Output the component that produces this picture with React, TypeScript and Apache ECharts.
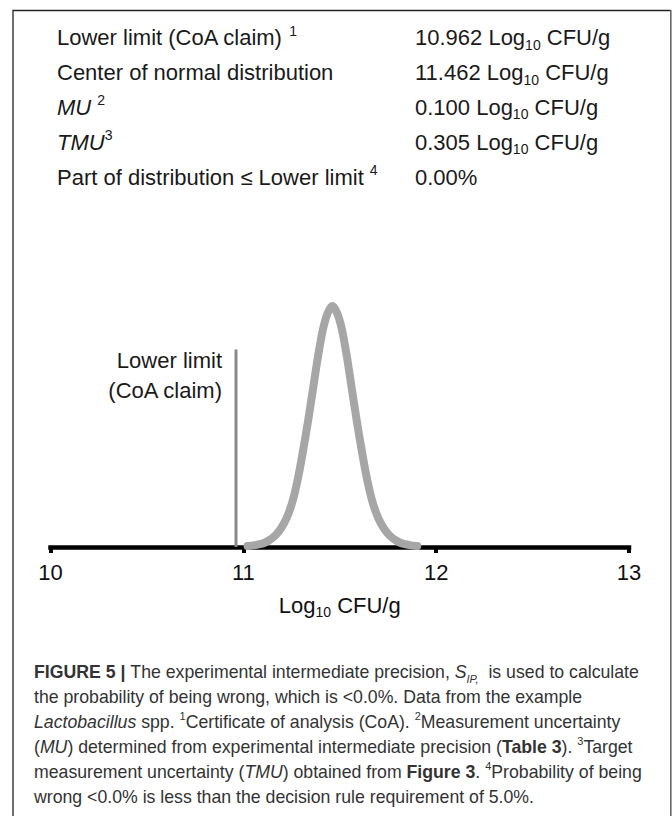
import React, { useEffect, useRef } from "react";
import * as echarts from "echarts";

// ---- data ----
const xTicks = [10, 11, 12, 13];
const curveX = [
  11.022, 11.062, 11.102, 11.132, 11.162, 11.187, 11.212, 11.237, 11.262, 11.287, 11.312, 11.337, 11.362, 11.387,
  11.412, 11.437, 11.462,
  11.487, 11.512, 11.537, 11.562, 11.587, 11.612, 11.637, 11.662, 11.687, 11.712, 11.737, 11.762, 11.792, 11.822,
  11.862, 11.902,
];
const curveY = [
  0.004, 0.008, 0.015, 0.027, 0.045, 0.068, 0.1, 0.145, 0.21, 0.3, 0.41, 0.53, 0.66, 0.79,
  0.9, 0.97, 1.0,
  0.97, 0.9, 0.79, 0.66, 0.53, 0.41, 0.3, 0.21, 0.145, 0.1, 0.068, 0.045, 0.027, 0.015,
  0.008, 0.004,
];
const lowerLimit = 10.962;
const lowerLimitLineTop = 0.82;

const tableLabels = [
  "{n|Lower limit (CoA claim) }{sup|1}",
  "{n|Center of normal distribution}",
  "{i|MU}{n| }{sup|2}",
  "{i|TMU}{sup|3}",
  "{n|Part of distribution ≤ Lower limit }{sup|4}",
];
const tableNumbers = ["10.962", "11.462", "0.100", "0.305"];
const partBelow = "0.00%";

const captionLines = [
  "{b|FIGURE 5 | }{n|The experimental intermediate precision, }{i|S}{isub|IP,}{n|  is used to calculate}",
  "{n|the probability of being wrong, which is <0.0%. Data from the example}",
  "{i|Lactobacillus}{n| spp. }{sup|1}{n|Certificate of analysis (CoA). }{sup|2}{n|Measurement uncertainty}",
  "{n|(}{i|MU}{n|) determined from experimental intermediate precision (}{b|Table 3}{n|). }{sup|3}{n|Target}",
  "{n|measurement uncertainty (}{i|TMU}{n|) obtained from }{b|Figure 3}{n|. }{sup|4}{n|Probability of being}",
  "{n|wrong <0.0% is less than the decision rule requirement of 5.0%.}",
];

const FONT = "'Liberation Sans', Arial, Helvetica, sans-serif";

function richMain(size: number, color: string, lh: number) {
  const subSize = Math.round(size * 0.64);
  return {
    n: { fontSize: size, fontFamily: FONT, fill: color, color, lineHeight: lh, verticalAlign: "middle" },
    i: { fontSize: size, fontFamily: FONT, fill: color, color, fontStyle: "italic", lineHeight: lh, verticalAlign: "middle" },
    b: { fontSize: size, fontFamily: FONT, fill: color, color, fontWeight: "bold", lineHeight: lh, verticalAlign: "middle" },
    sup: { fontSize: subSize, fontFamily: FONT, fill: color, color, lineHeight: Math.round(lh * 0.7), verticalAlign: "top" },
    sub: { fontSize: subSize, fontFamily: FONT, fill: color, color, lineHeight: subSize, verticalAlign: "bottom" },
    isub: { fontSize: subSize, fontFamily: FONT, fill: color, color, fontStyle: "italic", lineHeight: subSize, verticalAlign: "bottom" },
  };
}

export default function App() {
  const ref = useRef<HTMLDivElement>(null);
  useEffect(() => {
    if (!ref.current) return;
    const chart = echarts.init(ref.current, undefined, { renderer: "svg" });

    const rowY = [37.5, 72.5, 107, 142, 177];
    const graphics: any[] = [];
    // frame
    graphics.push({
      type: "polyline",
      shape: { points: [[13, 830], [13, 10.5], [670.5, 10.5]] },
      style: { stroke: "#222", lineWidth: 1.3, fill: null },
      silent: true,
    });
    graphics.push({
      type: "line",
      shape: { x1: 670.8, y1: 10, x2: 670.8, y2: 830 },
      style: { stroke: "#666", lineWidth: 1.6 },
      silent: true,
    });
    const tr = richMain(22, "#1a1a1a", 28);
    tableLabels.forEach((t, k) => {
      graphics.push({
        type: "text",
        x: 57,
        y: rowY[k],
        style: { text: t, rich: tr, align: "left", verticalAlign: "middle", font: `22px ${FONT}` },
      });
    });
    const values = tableNumbers.map((v) => `{n|${v} Log}{sub|10}{n| CFU/g}`).concat([`{n|${partBelow}}`]);
    values.forEach((t, k) => {
      graphics.push({
        type: "text",
        x: 415,
        y: rowY[k],
        style: { text: t, rich: tr, align: "left", verticalAlign: "middle", font: `22px ${FONT}` },
      });
    });
    // label of the lower limit line
    graphics.push({
      type: "text",
      x: 222,
      y: 375,
      style: {
        text: "Lower limit\n(CoA claim)",
        fontSize: 22,
        fontFamily: FONT,
        fill: "#1a1a1a",
        lineHeight: 30,
        align: "right",
        verticalAlign: "middle",
      },
    });
    // caption
    const cr = richMain(17.7, "#333", 24);
    captionLines.forEach((t, k) => {
      graphics.push({
        type: "text",
        x: 34,
        y: 672 + 25 * k,
        style: { text: t, rich: cr, align: "left", verticalAlign: "middle", font: `17.7px ${FONT}` },
      });
    });

    const axisRich = richMain(22, "#111", 28);

    chart.setOption({
      animation: false,
      grid: { left: 50.5, right: 43, top: 282, bottom: 269, containLabel: false },
      xAxis: {
        type: "value",
        min: xTicks[0],
        max: xTicks[xTicks.length - 1],
        interval: 1,
        name: "{n|Log}{sub|10}{n| CFU/g}",
        nameLocation: "middle",
        nameGap: 44,
        nameTextStyle: { rich: axisRich },
        axisLine: { show: true, lineStyle: { color: "#000", width: 4.5, cap: "square" } },
        axisTick: { show: true, length: 6, lineStyle: { color: "#000", width: 4 } },
        axisLabel: { fontSize: 22, color: "#111", fontFamily: FONT, margin: 14, showMinLabel: true, showMaxLabel: true },
        splitLine: { show: false },
      },
      yAxis: { type: "value", min: 0, max: 1.1, show: false },
      series: [
        {
          type: "line",
          data: [[lowerLimit, 0], [lowerLimit, lowerLimitLineTop]],
          symbol: "none",
          lineStyle: { color: "#8a8a8a", width: 3 },
          clip: false,
          z: 3,
        },
        {
          type: "line",
          data: curveX.map((x, i) => [x, curveY[i]]),
          smooth: 0.3,
          symbol: "none",
          lineStyle: { color: "#a6a6a6", width: 8, cap: "round", join: "round" },
          clip: false,
          z: 4,
        },
      ],
      graphic: graphics,
    });
    return () => chart.dispose();
  }, []);
  return (
    <div
      ref={ref}
      style={{ position: "fixed", left: 0, top: 0, width: 672, height: 816, background: "#fff" }}
    />
  );
}
